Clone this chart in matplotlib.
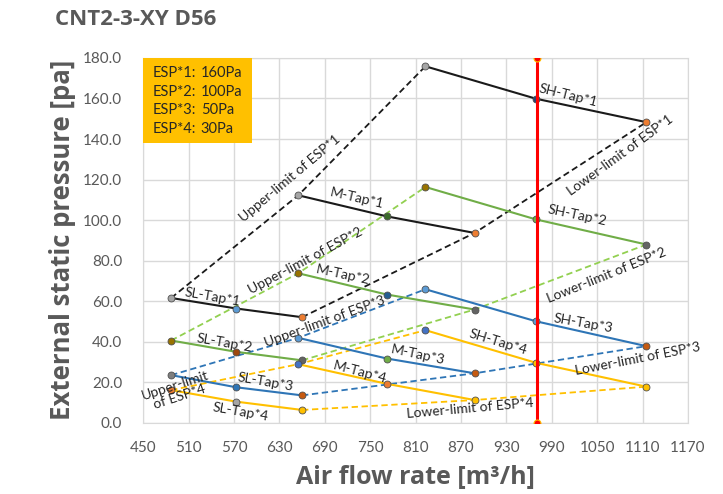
import matplotlib.pyplot as plt
from matplotlib.patches import Rectangle

# air flow [m3/h] of the three points of each tap curve
sl_flow = [487, 573, 660]
m_flow = [655, 772, 888]
sh_flow = [823, 969, 1115]

# pressure [Pa] for each ESP setting, per tap curve
esp1_sl = [61.5, 56.3, 52.0]
esp1_m = [112.2, 101.8, 93.6]
esp1_sh = [175.9, 159.9, 148.3]

esp2_sl = [40.5, 34.9, 30.7]
esp2_m = [73.7, 63.2, 55.8]
esp2_sh = [116.3, 100.3, 87.9]

esp3_sl = [23.4, 17.4, 13.4]
esp3_m = [41.8, 31.6, 24.3]
esp3_sh = [65.8, 50.0, 37.7]

esp4_sl = [16.0, 10.3, 6.2]
esp4_m = [28.8, 19.1, 11.1]
esp4_sh = [45.6, 29.5, 17.7]

rated_flow = 970
esp_names = ['ESP*1:', 'ESP*2:', 'ESP*3:', 'ESP*4:']
esp_values = ['160Pa', '100Pa', '50Pa', '30Pa']

series = [
    ('1', '#1a1a1a', '#1a1a1a', esp1_sl, esp1_m, esp1_sh,
     [['#a5a5a5', '#5b9bd5', '#ed7d31'], ['#a5a5a5', '#3a6b28', '#ed7d31'], ['#a5a5a5', '#264478', '#ed7d31']]),
    ('2', '#70ad47', '#92d050', esp2_sl, esp2_m, esp2_sh,
     [['#997300', '#9e480e', '#636363'], ['#997300', '#255e91', '#636363'], ['#997300', '#70ad47', '#636363']]),
    ('3', '#2e75b6', '#2e75b6', esp3_sl, esp3_m, esp3_sh,
     [['#7f7f7f', '#2e75b6', '#c55a11'], ['#5b9bd5', '#70ad47', '#c55a11'], ['#5b9bd5', '#5b9bd5', '#c55a11']]),
    ('4', '#ffc000', '#ffc000', esp4_sl, esp4_m, esp4_sh,
     [['#ed7d31', '#a5a5a5', '#ffc000'], ['#4472c4', '#ed7d31', '#ffc000'], ['#4472c4', '#ffc000', '#ffc000']]),
]

plt.rcParams['font.family'] = ['Lato', 'DejaVu Sans']

fig = plt.figure(figsize=(7.23, 4.94), dpi=100)
ax = fig.add_axes([0.198, 0.1447, 0.7536, 0.7379])

for name, col, dcol, sl, m, sh, mcols in series:
    # upper / lower limit (dashed)
    ax.plot([sl_flow[0], m_flow[0], sh_flow[0]], [sl[0], m[0], sh[0]],
            ls=(0, (3.5, 2)), color=dcol, lw=1.3, zorder=2)
    ax.plot([sl_flow[2], m_flow[2], sh_flow[2]], [sl[2], m[2], sh[2]],
            ls=(0, (3.5, 2)), color=dcol, lw=1.3, zorder=2)
    for flow, vals, mc in zip([sl_flow, m_flow, sh_flow], [sl, m, sh], mcols):
        ax.plot(flow, vals, color=col, lw=1.5, zorder=3)
        for xv, yv, c in zip(flow, vals, mc):
            ax.plot(xv, yv, 'o', ms=5, mfc=c, mec='#505050', mew=0.6, zorder=4)

ax.plot([rated_flow, rated_flow], [0, 180], color='#ff0000', lw=2.2, zorder=5)
ax.plot([rated_flow, rated_flow], [0, 180], 'o', ms=5, mfc='#ff0000', mec='#ffc000', mew=0.8, zorder=6)

labels = [
    ('Upper-limit of ESP*1', 644, 120.7, 40),
    ('M-Tap*1', 733, 110.9, -13),
    ('SH-Tap*1', 1011, 161.7, -14),
    ('Lower-limit of ESP*1', 1080, 132.1, 36),
    ('SH-Tap*2', 1023, 102.5, -12),
    ('Upper-limit of ESP*2', 664, 79.7, 28),
    ('M-Tap*2', 714, 72.8, -12),
    ('SL-Tap*1', 541, 62.0, -10),
    ('Upper-limit of ESP*3', 690, 49.6, 20),
    ('SL-Tap*2', 558, 39.3, -10),
    ('M-Tap*3', 813, 33.3, -12),
    ('M-Tap*4', 737, 24.9, -15),
    ('Upper-limit\nof ESP*4', 495, 15.6, 18),
    ('SL-Tap*3', 611, 20.0, -10),
    ('SL-Tap*4', 578, 5.2, -10),
    ('Lower-limit of ESP*4', 882, 6.7, 5),
    ('SH-Tap*4', 919, 39.8, -17),
    ('SH-Tap*3', 1031, 49.1, -10),
    ('Lower-limit of ESP*3', 1104, 31.4, 11),
    ('Lower-limit of ESP*2', 1062, 72.8, 22),
]
for txt, xv, yv, rot in labels:
    ax.text(xv, yv, txt, rotation=rot, ha='center', va='center', fontsize=10,
            color='#262626', rotation_mode='anchor', zorder=7, linespacing=1.0)

# ESP legend box
ax.add_patch(Rectangle((450, 137.8), 144, 42.2, facecolor='#ffc000', edgecolor='none', zorder=6))
for i, (n, v) in enumerate(zip(esp_names, esp_values)):
    yv = 172.7 - i * 9.3
    ax.text(463, yv, n, fontsize=10.5, color='#262626', va='center', zorder=7)
    ax.text(526, yv, v, fontsize=10.5, color='#262626', va='center', zorder=7)

ax.set_xlim(450, 1170)
ax.set_ylim(0, 180)
ax.set_xticks(range(450, 1171, 60))
ax.set_yticks(range(0, 181, 20))
ax.set_yticklabels([f'{v:.1f}' for v in range(0, 181, 20)])
ax.tick_params(length=0, labelsize=11, labelcolor='#595959')
ax.tick_params(axis='x', pad=13)
ax.tick_params(axis='y', pad=15)
ax.grid(color='#d9d9d9', lw=1)
ax.set_axisbelow(True)
for s in ax.spines.values():
    s.set_color('#d9d9d9')

ax.set_xlabel('Air flow rate [m³/h]', fontsize=18, fontweight='bold', color='#595959',
              family='Open Sans', va='center')
ax.set_ylabel('External static pressure [pa]', fontsize=18.5, fontweight='bold', color='#595959',
              family='Open Sans', va='center')
ax.xaxis.set_label_coords(0.5, -0.152)
ax.yaxis.set_label_coords(-0.1486, 0.5)
fig.text(0.076, 0.9615, 'CNT2-3-XY D56', fontsize=16, fontweight='bold', color='#595959',
         va='center', family='Open Sans')

fig.savefig('out.png', dpi=100)
